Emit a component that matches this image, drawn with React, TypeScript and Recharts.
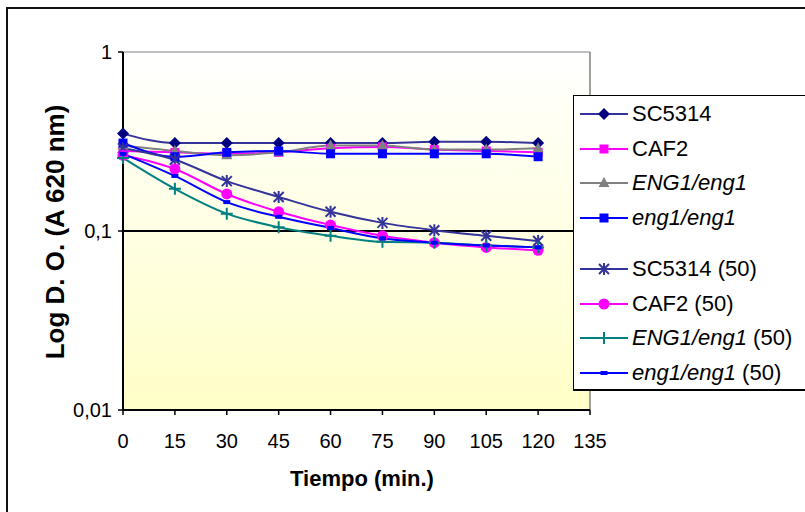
import React from "react";
import {
    LineChart,
    Line,
    XAxis,
    YAxis,
    CartesianGrid,
    ReferenceLine
} from "recharts";

// tiempo (min.)
const tiempo = [0, 15, 30, 45, 60, 75, 90, 105, 120];
const xTicks = [0, 15, 30, 45, 60, 75, 90, 105, 120, 135];
const yTicks = [0.01, 0.1, 1];

// sin tratamiento
const sc5314 = [0.35, 0.31, 0.31, 0.31, 0.31, 0.31, 0.315, 0.315, 0.31];
const caf2 = [0.28, 0.275, 0.27, 0.275, 0.29, 0.295, 0.285, 0.28, 0.275];
const eng1Het = [0.3, 0.28, 0.265, 0.275, 0.3, 0.3, 0.285, 0.285, 0.29];
const eng1Hom = [0.31, 0.26, 0.275, 0.28, 0.27, 0.27, 0.27, 0.27, 0.26];

// (50)
const sc5314_50 = [0.29, 0.25, 0.19, 0.155, 0.128, 0.111, 0.101, 0.094, 0.088];
const caf2_50 = [0.265, 0.222, 0.161, 0.128, 0.108, 0.094, 0.086, 0.081, 0.078];
const eng1Het_50 = [0.256, 0.172, 0.125, 0.105, 0.094, 0.087, 0.086, 0.083, 0.081];
const eng1Hom_50 = [0.27, 0.203, 0.145, 0.12, 0.104, 0.091, 0.086, 0.083, 0.081];

const data = tiempo.map((t, i) => ({
    t,
    sc5314: sc5314[i],
    caf2: caf2[i],
    eng1Het: eng1Het[i],
    eng1Hom: eng1Hom[i],
    sc5314_50: sc5314_50[i],
    caf2_50: caf2_50[i],
    eng1Het_50: eng1Het_50[i],
    eng1Hom_50: eng1Hom_50[i]
}));

const FONT = "'Liberation Sans', Arial, sans-serif";

type Shape = "diamond" | "square" | "triangle" | "star" | "circle" | "plus" | "dash";

function Marker({ shape, color, cx, cy }: { shape: Shape; color: string; cx: number; cy: number }) {
    switch (shape) {
        case "diamond":
            return <polygon points={`${cx},${cy - 6} ${cx + 6},${cy} ${cx},${cy + 6} ${cx - 6},${cy}`} fill={color} />;
        case "square":
            return <rect x={cx - 4.5} y={cy - 4.5} width={9} height={9} fill={color} />;
        case "triangle":
            return <polygon points={`${cx},${cy - 6} ${cx + 5.5},${cy + 4} ${cx - 5.5},${cy + 4}`} fill={color} />;
        case "star":
            return (
                <g stroke={color} strokeWidth={2}>
                    <line x1={cx - 5} y1={cy - 5} x2={cx + 5} y2={cy + 5} />
                    <line x1={cx - 5} y1={cy + 5} x2={cx + 5} y2={cy - 5} />
                    <line x1={cx} y1={cy - 6} x2={cx} y2={cy + 6} />
                </g>
            );
        case "circle":
            return <circle cx={cx} cy={cy} r={5.5} fill={color} />;
        case "plus":
            return (
                <g stroke={color} strokeWidth={2}>
                    <line x1={cx - 6} y1={cy} x2={cx + 6} y2={cy} />
                    <line x1={cx} y1={cy - 6} x2={cx} y2={cy + 6} />
                </g>
            );
        case "dash":
            return <rect x={cx - 3.5} y={cy - 2} width={7} height={4} fill={color} />;
    }
    return null;
}

const dot = (shape: Shape, color: string) => (p: any) =>
    <Marker key={p.index} shape={shape} color={color} cx={p.cx} cy={p.cy} />;

const series = [
    { key: "sc5314", name: "SC5314", italic: false, line: "#333399", mark: "#000080", shape: "diamond" as Shape },
    { key: "caf2", name: "CAF2", italic: false, line: "#FF00FF", mark: "#FF00FF", shape: "square" as Shape },
    { key: "eng1Het", name: "ENG1/eng1", italic: true, line: "#808080", mark: "#808080", shape: "triangle" as Shape },
    { key: "eng1Hom", name: "eng1/eng1", italic: true, line: "#0000FF", mark: "#0000FF", shape: "square" as Shape },
    { key: "sc5314_50", name: "SC5314", italic: false, line: "#333399", mark: "#333399", shape: "star" as Shape, fifty: true },
    { key: "caf2_50", name: "CAF2", italic: false, line: "#FF00FF", mark: "#FF00FF", shape: "circle" as Shape, fifty: true },
    { key: "eng1Het_50", name: "ENG1/eng1", italic: true, line: "#008080", mark: "#008080", shape: "plus" as Shape, fifty: true },
    { key: "eng1Hom_50", name: "eng1/eng1", italic: true, line: "#0000FF", mark: "#0000FF", shape: "dash" as Shape, fifty: true }
];

function LegendBox() {
    return (
        <div
            style={{
                position: "absolute",
                left: 573,
                top: 95,
                width: 240,
                height: 296,
                border: "1px solid #000",
                borderBottom: "2px solid #000",
                background: "#fff",
                boxSizing: "border-box",
                fontFamily: FONT,
                fontSize: 22
            }}
        >
            {series.map((s, i) => {
                const y = 18 + i * 34.5 + (i >= 4 ? 17 : 0);
                return (
                    <div key={s.key} style={{ position: "absolute", left: 0, top: y - 12, height: 24, display: "flex", alignItems: "center" }}>
                        <svg width={58} height={24}>
                            <line x1={6} y1={12} x2={54} y2={12} stroke={s.line} strokeWidth={2} />
                            <Marker shape={s.shape} color={s.mark} cx={30} cy={12} />
                        </svg>
                        <span style={{ whiteSpace: "nowrap", lineHeight: "24px" }}>
                            <span style={{ fontStyle: s.italic ? "italic" : "normal" }}>{s.name}</span>
                            {s.fifty ? " (50)" : ""}
                        </span>
                    </div>
                );
            })}
        </div>
    );
}

const fmt = (v: number) => String(v).replace(".", ",");

export default function App() {
    return (
        <div style={{ position: "fixed", left: 0, top: 0, width: 805, height: 512, background: "#fff", overflow: "hidden" }}>
            <div
                style={{
                    position: "absolute",
                    left: 6,
                    top: 7,
                    width: 820,
                    height: 520,
                    border: "2px solid #111",
                    boxSizing: "border-box"
                }}
            />
            <div style={{ position: "absolute", left: 0, top: 0 }}>
                <LineChart width={805} height={512} data={data} margin={{ top: 52, right: 215, bottom: 72, left: 63 }}>
                    <defs>
                        <linearGradient id="plotBg" x1="0" y1="0" x2="0" y2="1">
                            <stop offset="0%" stopColor="#FFFFFF" />
                            <stop offset="100%" stopColor="#FFFFC8" />
                        </linearGradient>
                    </defs>
                    <CartesianGrid fill="url(#plotBg)" fillOpacity={1} stroke="#808080" vertical={false} />
                    <XAxis
                        dataKey="t"
                        type="number"
                        domain={[0, 135]}
                        ticks={xTicks}
                        interval={0}
                        height={30}
                        axisLine={{ stroke: "#000", strokeWidth: 2 }}
                        tickLine={{ stroke: "#000", strokeWidth: 1.5 }}
                        tickSize={5}
                        tickMargin={19}
                        tick={{ fill: "#000", fontSize: 20, fontFamily: FONT }}
                        label={{
                            value: "Tiempo (min.)",
                            position: "insideBottom",
                            content: () => (
                                <text x={362} y={486} textAnchor="middle" fontFamily={FONT} fontSize={22} fontWeight="bold" fill="#000">
                                    Tiempo (min.)
                                </text>
                            )
                        }}
                    />
                    <YAxis
                        scale="log"
                        domain={[0.01, 1]}
                        ticks={yTicks}
                        interval={0}
                        allowDataOverflow
                        width={60}
                        axisLine={{ stroke: "#000", strokeWidth: 2 }}
                        tickLine={{ stroke: "#000", strokeWidth: 1.5 }}
                        tickSize={5}
                        tickMargin={6}
                        tickFormatter={fmt}
                        tick={{ fill: "#000", fontSize: 20, fontFamily: FONT }}
                        label={{
                            value: "Log D. O. (A 620 nm)",
                            position: "insideLeft",
                            content: () => (
                                <text
                                    x={55}
                                    y={232}
                                    textAnchor="middle"
                                    dominantBaseline="central"
                                    transform="rotate(-90 55 232)"
                                    fontFamily={FONT}
                                    fontSize={26}
                                    fontWeight="bold"
                                    fill="#000"
                                >
                                    Log D. O. (A 620 nm)
                                </text>
                            )
                        }}
                    />
                    <ReferenceLine x={135} stroke="#808080" strokeWidth={1.5} />
                    <ReferenceLine y={0.1} stroke="#000" strokeWidth={2} />
                    {series.map((s) => (
                        <Line
                            key={s.key}
                            dataKey={s.key}
                            type="monotone"
                            stroke={s.line}
                            strokeWidth={2}
                            dot={dot(s.shape, s.mark)}
                            activeDot={false}
                            isAnimationActive={false}
                        />
                    ))}
                </LineChart>
            </div>
            <LegendBox />
        </div>
    );
}
